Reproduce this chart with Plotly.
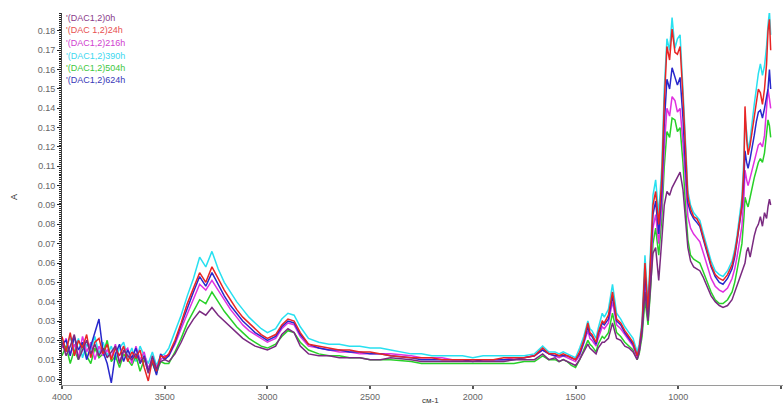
import plotly.graph_objects as go

# Wavenumber grid (cm-1), descending
wavenumber = [
    4000, 3980, 3960, 3940, 3920, 3900, 3880, 3860, 3840, 3820, 3800, 3780, 3760,
    3740, 3720, 3700, 3680, 3660, 3640, 3620, 3600, 3580, 3560, 3540, 3520, 3500,
    3480, 3450, 3420, 3390, 3360, 3330, 3300, 3270, 3240, 3210, 3180, 3150, 3120,
    3090, 3060, 3030, 3000,
    2960, 2930, 2900, 2870, 2840, 2800, 2750, 2700, 2650, 2600, 2550, 2500,
    2450, 2400, 2300, 2250, 2200, 2150, 2100, 2050, 2000, 1950, 1900, 1850, 1800,
    1750, 1700, 1660, 1630, 1600,
    1580, 1560, 1540, 1520, 1500, 1480, 1460, 1440, 1430, 1420, 1400, 1390, 1370,
    1360, 1340, 1320, 1300, 1280, 1260, 1240, 1220, 1200, 1190, 1176, 1162, 1147,
    1135, 1123, 1110, 1095, 1080, 1068, 1055, 1042, 1030, 1016, 1004, 991, 977,
    965, 953, 940, 925, 910, 895, 880, 860, 840, 820, 800, 782, 760, 738, 725,
    714, 700, 690, 680, 675, 667, 660, 650, 641, 630, 620, 610, 600, 590, 580,
    570, 563, 556, 550,
]

a_0h = [
    0.019, 0.012, 0.017, 0.023, 0.010, 0.015, 0.020, 0.013, 0.018, 0.012, 0.016, 0.011, 0.014,
    0.017, 0.008, 0.015, 0.012, 0.010, 0.013, 0.009, 0.011, 0.003, 0.012, 0.005, 0.009, 0.010,
    0.009, 0.013, 0.019, 0.026, 0.031, 0.035, 0.033, 0.037, 0.033, 0.030, 0.027, 0.024, 0.021,
    0.019, 0.017, 0.016, 0.015,
    0.017, 0.023, 0.026, 0.024, 0.017, 0.013, 0.012, 0.012, 0.011, 0.011, 0.011, 0.010,
    0.010, 0.011, 0.010, 0.009, 0.009, 0.009, 0.009, 0.009, 0.009, 0.009, 0.009, 0.009, 0.010,
    0.010, 0.010, 0.013, 0.010, 0.011,
    0.009, 0.010, 0.009, 0.008, 0.007, 0.010, 0.014, 0.018, 0.016, 0.015, 0.013, 0.016, 0.019,
    0.019, 0.021, 0.029, 0.021, 0.020, 0.017, 0.016, 0.014, 0.010, 0.014, 0.025, 0.045, 0.030,
    0.046, 0.065, 0.068, 0.051, 0.072, 0.090, 0.097, 0.095, 0.099, 0.102, 0.104, 0.107, 0.098,
    0.082, 0.068, 0.061, 0.058, 0.057, 0.056, 0.053, 0.048, 0.043, 0.040, 0.038, 0.037, 0.038, 0.041, 0.045,
    0.048, 0.052, 0.055, 0.059, 0.060, 0.066, 0.068, 0.063, 0.069, 0.074, 0.078, 0.080, 0.084, 0.079, 0.086,
    0.083, 0.089, 0.093, 0.090,
]

a_24h = [
    0.022, 0.014, 0.024, 0.012, 0.020, 0.016, 0.023, 0.011, 0.019, 0.021, 0.013, 0.018, 0.010,
    0.016, 0.012, 0.017, 0.009, 0.014, 0.011, 0.015, 0.006, -0.001, 0.010, 0.004, 0.012, 0.011,
    0.013, 0.020, 0.029, 0.039, 0.047, 0.055, 0.050, 0.058, 0.052, 0.046, 0.041, 0.036, 0.032,
    0.029, 0.026, 0.023, 0.021,
    0.023, 0.028, 0.031, 0.030, 0.024, 0.018, 0.017, 0.016, 0.015, 0.015, 0.014, 0.014,
    0.013, 0.012, 0.011, 0.011, 0.011, 0.010, 0.010, 0.010, 0.010, 0.010, 0.010, 0.011, 0.011,
    0.011, 0.012, 0.016, 0.013, 0.013,
    0.012, 0.013, 0.012, 0.011, 0.010, 0.014, 0.020, 0.029, 0.024, 0.023, 0.019, 0.024, 0.030,
    0.029, 0.033, 0.045, 0.031, 0.029, 0.025, 0.022, 0.019, 0.012, 0.016, 0.028, 0.060, 0.035,
    0.060, 0.090, 0.097, 0.080, 0.104, 0.143, 0.172, 0.165, 0.181, 0.169, 0.168, 0.172, 0.146,
    0.116, 0.094, 0.088, 0.084, 0.083, 0.080, 0.074, 0.066, 0.059, 0.054, 0.052, 0.051, 0.054, 0.059, 0.065,
    0.072, 0.082, 0.090, 0.110, 0.141, 0.124, 0.116, 0.121, 0.128, 0.137, 0.145, 0.150, 0.148, 0.142, 0.150,
    0.163, 0.180, 0.186, 0.170,
]

a_216h = [
    0.016, 0.021, 0.013, 0.018, 0.011, 0.022, 0.014, 0.019, 0.010, 0.017, 0.012, 0.015, 0.011,
    0.018, 0.009, 0.014, 0.016, 0.008, 0.017, 0.010, 0.014, 0.005, 0.011, 0.006, 0.010, 0.012,
    0.012, 0.018, 0.026, 0.034, 0.042, 0.049, 0.046, 0.051, 0.046, 0.041, 0.036, 0.032, 0.028,
    0.025, 0.023, 0.021, 0.019,
    0.021, 0.026, 0.029, 0.028, 0.022, 0.017, 0.016, 0.015, 0.014, 0.014, 0.013, 0.013,
    0.013, 0.013, 0.012, 0.011, 0.011, 0.011, 0.010, 0.010, 0.010, 0.010, 0.010, 0.010, 0.011,
    0.011, 0.012, 0.015, 0.013, 0.012,
    0.011, 0.012, 0.011, 0.010, 0.009, 0.012, 0.018, 0.025, 0.021, 0.020, 0.017, 0.021, 0.027,
    0.026, 0.029, 0.040, 0.028, 0.026, 0.023, 0.020, 0.017, 0.011, 0.014, 0.025, 0.050, 0.031,
    0.052, 0.078, 0.085, 0.070, 0.090, 0.120, 0.140, 0.136, 0.146, 0.144, 0.138, 0.140, 0.122,
    0.100, 0.084, 0.078, 0.075, 0.073, 0.071, 0.066, 0.059, 0.052, 0.048, 0.046, 0.045, 0.047, 0.052, 0.057,
    0.063, 0.072, 0.079, 0.095, 0.108, 0.103, 0.100, 0.104, 0.108, 0.113, 0.118, 0.121, 0.122, 0.120, 0.126,
    0.138, 0.150, 0.145, 0.140,
]

a_390h = [
    0.020, 0.016, 0.022, 0.014, 0.021, 0.011, 0.018, 0.015, 0.022, 0.013, 0.019, 0.012, 0.017,
    0.010, 0.016, 0.019, 0.011, 0.016, 0.009, 0.017, 0.012, 0.008, 0.014, 0.007, 0.012, 0.013,
    0.016, 0.024, 0.033, 0.043, 0.052, 0.063, 0.058, 0.066, 0.057, 0.050, 0.045, 0.040, 0.036,
    0.032, 0.029, 0.026, 0.024,
    0.026, 0.031, 0.034, 0.033, 0.027, 0.021, 0.019, 0.018, 0.018, 0.017, 0.017, 0.016,
    0.016, 0.015, 0.013, 0.013, 0.012, 0.012, 0.012, 0.012, 0.011, 0.012, 0.012, 0.012, 0.012,
    0.012, 0.013, 0.017, 0.014, 0.014,
    0.013, 0.014, 0.013, 0.012, 0.011, 0.016, 0.022, 0.030, 0.026, 0.025, 0.021, 0.026, 0.034,
    0.032, 0.036, 0.049, 0.034, 0.031, 0.027, 0.024, 0.021, 0.014, 0.018, 0.030, 0.064, 0.038,
    0.065, 0.095, 0.103, 0.085, 0.110, 0.150, 0.176, 0.170, 0.187, 0.171, 0.176, 0.178, 0.150,
    0.120, 0.097, 0.090, 0.086, 0.084, 0.082, 0.076, 0.068, 0.061, 0.056, 0.054, 0.053, 0.056, 0.061, 0.067,
    0.074, 0.085, 0.094, 0.115, 0.135, 0.128, 0.118, 0.124, 0.133, 0.142, 0.150, 0.158, 0.163, 0.157, 0.162,
    0.172, 0.183, 0.190, 0.178,
]

a_504h = [
    0.012, 0.017, 0.008, 0.015, 0.010, 0.019, 0.012, 0.008, 0.016, 0.011, 0.013, 0.020, 0.009,
    0.012, 0.006, 0.013, 0.010, 0.007, 0.012, 0.004, 0.010, 0.006, 0.008, 0.003, 0.009, 0.008,
    0.008, 0.014, 0.021, 0.029, 0.035, 0.041, 0.039, 0.045, 0.040, 0.035, 0.031, 0.027, 0.024,
    0.021, 0.019, 0.017, 0.016,
    0.018, 0.022, 0.025, 0.024, 0.019, 0.015, 0.013, 0.012, 0.012, 0.011, 0.011, 0.010,
    0.010, 0.010, 0.009, 0.008, 0.008, 0.008, 0.008, 0.008, 0.008, 0.008, 0.008, 0.008, 0.008,
    0.009, 0.009, 0.012, 0.010, 0.010,
    0.009, 0.010, 0.009, 0.007, 0.006, 0.010, 0.015, 0.020, 0.018, 0.017, 0.014, 0.018, 0.022,
    0.021, 0.024, 0.034, 0.024, 0.022, 0.019, 0.017, 0.015, 0.010, 0.013, 0.022, 0.041, 0.028,
    0.046, 0.070, 0.078, 0.064, 0.083, 0.110, 0.128, 0.125, 0.135, 0.134, 0.128, 0.130, 0.112,
    0.090, 0.072, 0.064, 0.062, 0.061, 0.060, 0.056, 0.050, 0.045, 0.041, 0.039, 0.039, 0.041, 0.045, 0.050,
    0.056, 0.064, 0.070, 0.084, 0.094, 0.091, 0.089, 0.094, 0.099, 0.104, 0.108, 0.112, 0.114, 0.112, 0.117,
    0.126, 0.134, 0.131, 0.125,
]

a_624h = [
    0.018, 0.020, 0.012, 0.022, 0.015, 0.019, 0.010, 0.017, 0.024, 0.031, 0.014, 0.008, -0.002,
    0.013, 0.018, 0.009, 0.015, 0.011, 0.016, 0.008, 0.012, 0.004, 0.009, 0.002, 0.013, 0.010,
    0.012, 0.019, 0.028, 0.037, 0.045, 0.053, 0.048, 0.055, 0.049, 0.043, 0.038, 0.034, 0.030,
    0.027, 0.024, 0.022, 0.020,
    0.022, 0.027, 0.030, 0.029, 0.023, 0.018, 0.016, 0.015, 0.015, 0.014, 0.014, 0.013,
    0.013, 0.012, 0.011, 0.010, 0.010, 0.010, 0.010, 0.010, 0.009, 0.010, 0.010, 0.010, 0.010,
    0.011, 0.012, 0.015, 0.013, 0.012,
    0.012, 0.012, 0.012, 0.011, 0.010, 0.013, 0.019, 0.027, 0.023, 0.022, 0.018, 0.023, 0.029,
    0.028, 0.031, 0.043, 0.030, 0.028, 0.024, 0.021, 0.018, 0.012, 0.015, 0.026, 0.055, 0.033,
    0.056, 0.085, 0.092, 0.075, 0.097, 0.132, 0.155, 0.150, 0.161, 0.156, 0.152, 0.156, 0.135,
    0.110, 0.091, 0.086, 0.083, 0.081, 0.079, 0.073, 0.065, 0.058, 0.053, 0.050, 0.049, 0.052, 0.057, 0.063,
    0.071, 0.081, 0.089, 0.104, 0.118, 0.112, 0.109, 0.114, 0.119, 0.126, 0.133, 0.138, 0.139, 0.135, 0.140,
    0.145, 0.150, 0.160, 0.150,
]

labels = ["(DAC1,2)0h", "(DAC 1,2)24h", "(DAC1,2)216h",
          "(DAC1,2)390h", "(DAC1,2)504h", "(DAC1,2)624h"]
line_colors = ["#7a2a80", "#e82424", "#e030e0", "#28e0f0", "#28d028", "#2828cc"]
label_colors = ["#8a3a8a", "#e85050", "#d040d0", "#40d8f0", "#40c840", "#3838b8"]
series = [a_0h, a_24h, a_216h, a_390h, a_504h, a_624h]

# drawing order: lowest-priority lines first, 0h on top
draw_order = [3, 4, 2, 5, 1, 0]

fig = go.Figure()
for i in draw_order:
    fig.add_trace(go.Scatter(
        x=wavenumber, y=series[i], mode="lines", name=labels[i],
        line=dict(color=line_colors[i], width=1.5),
    ))

W, H = 783, 408
L, R, T, B = 62, 0, 13, 23
pw, ph = W - L - R, H - T - B

def px_x(px):
    return (px - L) / pw

def px_y(py):
    return (H - B - py) / ph

font = "Arial, Liberation Sans, sans-serif"

annotations = []
for k, (lab, col) in enumerate(zip(labels, label_colors)):
    annotations.append(dict(
        x=px_x(64), y=px_y(18 + k * 12.5), xref="paper", yref="paper",
        xanchor="left", yanchor="middle", showarrow=False,
        text="'" + lab, font=dict(family=font, size=9, color=col),
    ))
annotations.append(dict(
    x=px_x(14), y=px_y(197), xref="paper", yref="paper", showarrow=False,
    text="A", textangle=-90, font=dict(family=font, size=9, color="#333"),
    xanchor="center", yanchor="middle",
))
annotations.append(dict(
    x=px_x(430), y=px_y(400), xref="paper", yref="paper", showarrow=False,
    text="см-1", font=dict(family=font, size=8, color="#333"),
    xanchor="center", yanchor="middle",
))

fig.update_layout(
    width=W, height=H,
    margin=dict(l=L, r=R, t=T, b=B, pad=0),
    paper_bgcolor="white", plot_bgcolor="white",
    showlegend=False,
    annotations=annotations,
    xaxis=dict(
        range=[4000, 490], tickvals=[4000, 3500, 3000, 2500, 2000, 1500, 1000, 500],
        showline=True, linecolor="#9a9a9a", linewidth=1,
        ticks="outside", ticklen=3, tickwidth=2, tickcolor="#555",
        showgrid=False, zeroline=False,
        tickfont=dict(family=font, size=9, color="#666"),
    ),
    yaxis=dict(
        range=[-0.0031, 0.1893], dtick=0.01, tick0=0, tickformat=".2f",
        showline=True, linecolor="#444", linewidth=1,
        ticks="outside", ticklen=4, tickwidth=1, tickcolor="#222",
        minor=dict(dtick=0.001, ticks="outside", ticklen=2, tickcolor="#222", tickwidth=1),
        showgrid=False, zeroline=False,
        tickfont=dict(family=font, size=9, color="#666"),
    ),
)

fig.write_html("out.html")
